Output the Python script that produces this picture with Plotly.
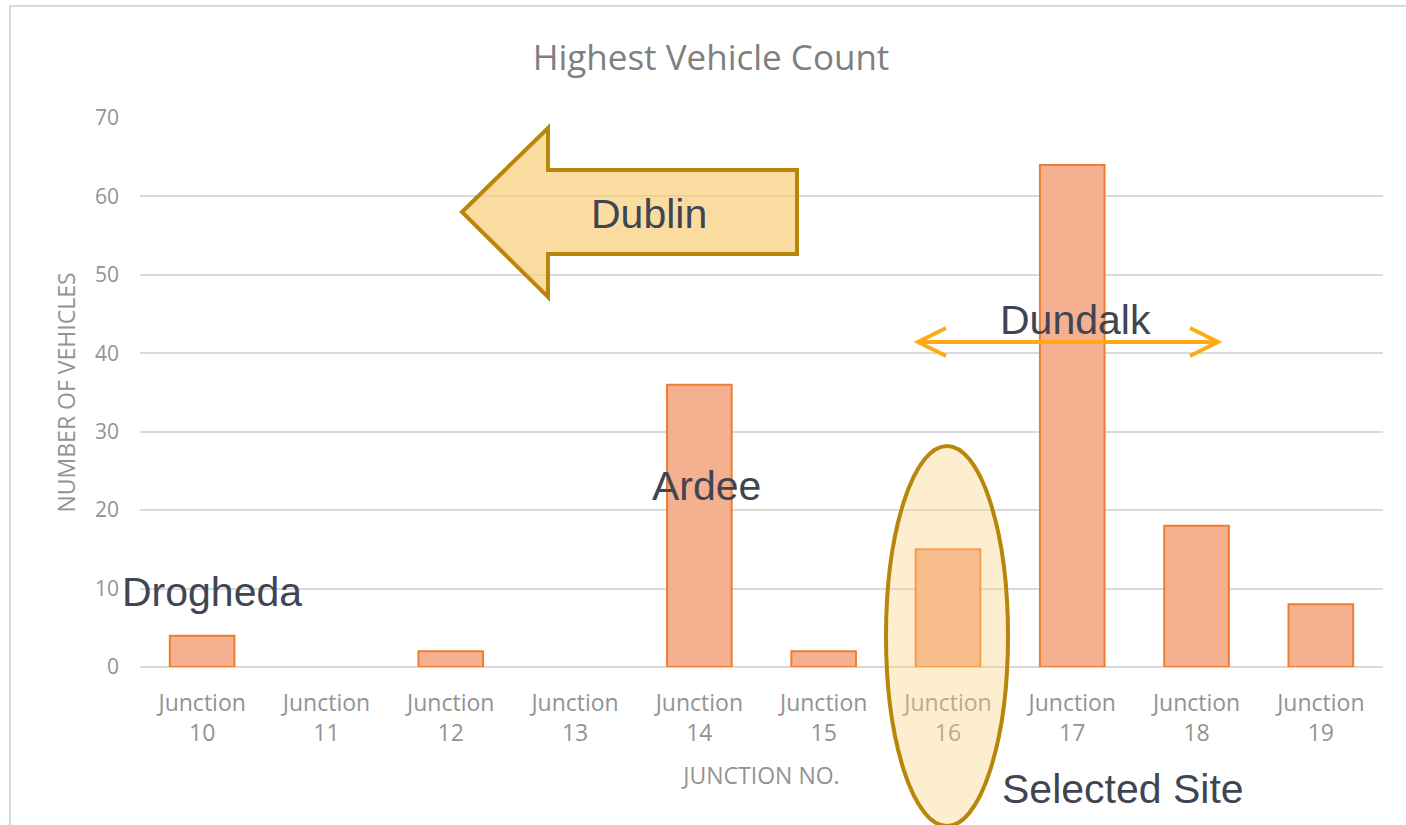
import plotly.graph_objects as go

categories = ["Junction<br>10", "Junction<br>11", "Junction<br>12", "Junction<br>13", "Junction<br>14",
              "Junction<br>15", "Junction<br>16", "Junction<br>17", "Junction<br>18", "Junction<br>19"]
vehicles = [4, 0, 2, 0, 36, 2, 15, 64, 18, 8]
y_ticks = [0, 10, 20, 30, 40, 50, 60, 70]

W, H = 1406, 825
L, R, T, B = 140, 23, 118, 158
PW, PH = W - L - R, H - T - B


def px(x):
    return (x - L) / PW


def py(y):
    return (H - B - y) / PH


chart_font = "Open Sans, Lato, sans-serif"
note_font = "Liberation Sans, Arial, sans-serif"
note_color = "#404553"
axis_color = "#939393"

fig = go.Figure()
fig.add_trace(go.Bar(
    x=categories, y=vehicles,
    marker=dict(color="#F5B090",
                line=dict(color="#ED7D31", width=[2 if v > 0 else 0 for v in vehicles])),
    hoverinfo="x+y",
))

shapes = []
# outer chart border
shapes.append(dict(type="rect", xref="paper", yref="paper",
                   x0=px(10), x1=px(1420), y0=py(6), y1=py(840),
                   line=dict(color="#D9D9D9", width=2), fillcolor="rgba(0,0,0,0)", layer="below"))
# Dublin block arrow
pts = [(462, 212), (548, 128), (548, 170), (797, 170), (797, 254), (548, 254), (548, 297)]
path = "M " + " L ".join(f"{px(x):.5f} {py(y):.5f}" for x, y in pts) + " Z"
shapes.append(dict(type="path", xref="paper", yref="paper", path=path,
                   fillcolor="rgba(250,205,120,0.7)", line=dict(color="#B8860B", width=4), layer="above"))
# Dundalk double arrow
ac = "#FFAA15"
shapes.append(dict(type="line", xref="paper", yref="paper", x0=px(920), x1=px(1216), y0=py(342), y1=py(342),
                   line=dict(color=ac, width=4)))
for tip, arm in [(1218, 1190), (918, 946)]:
    p = f"M {px(arm):.5f} {py(328):.5f} L {px(tip):.5f} {py(342):.5f} L {px(arm):.5f} {py(356):.5f}"
    shapes.append(dict(type="path", xref="paper", yref="paper", path=p, line=dict(color=ac, width=4)))
# Selected site ellipse
shapes.append(dict(type="circle", xref="paper", yref="paper",
                   x0=px(886), x1=px(1008), y0=py(826), y1=py(446),
                   fillcolor="rgba(251,210,130,0.38)", line=dict(color="#B8860B", width=4), layer="above"))

annotations = []
for text, cx, cy in [("Drogheda", 212, 592), ("Ardee", 706, 486), ("Dundalk", 1075, 320),
                     ("Dublin", 649, 214), ("Selected Site", 1123, 789)]:
    annotations.append(dict(text=text, xref="paper", yref="paper", x=px(cx), y=py(cy),
                            xanchor="center", yanchor="middle", showarrow=False,
                            font=dict(family=note_font, size=41, color=note_color)))

fig.update_layout(
    width=W, height=H,
    margin=dict(l=L, r=R, t=T, b=B),
    paper_bgcolor="white", plot_bgcolor="white",
    title=dict(text="Highest Vehicle Count", x=711 / W, xanchor="center", y=1 - 58 / H, yanchor="middle",
               font=dict(family=chart_font, size=35, color="#7F7F7F")),
    bargap=0.48,
    showlegend=False,
    shapes=shapes,
    annotations=annotations,
    xaxis=dict(
        type="category",
        tickfont=dict(family=chart_font, size=23, color=axis_color),
        showgrid=False, showline=False, ticks="", ticklabelstandoff=20,
        title=dict(text="JUNCTION NO.", font=dict(family=chart_font, size=23, color=axis_color), standoff=20),
    ),
    yaxis=dict(
        range=[0, 70], tickvals=y_ticks,
        tickfont=dict(family=chart_font, size=21, color=axis_color),
        showgrid=True, gridcolor="#D9D9D9", gridwidth=1.5,
        zeroline=True, zerolinecolor="#D9D9D9", zerolinewidth=1.5,
        showline=False, ticks="", ticklabelstandoff=20,
        title=dict(text="NUMBER OF VEHICLES", font=dict(family=chart_font, size=23, color=axis_color), standoff=12),
    ),
)

fig.write_html("out.html", config={"displayModeBar": False},
               post_script="document.body.style.margin='0px';")
